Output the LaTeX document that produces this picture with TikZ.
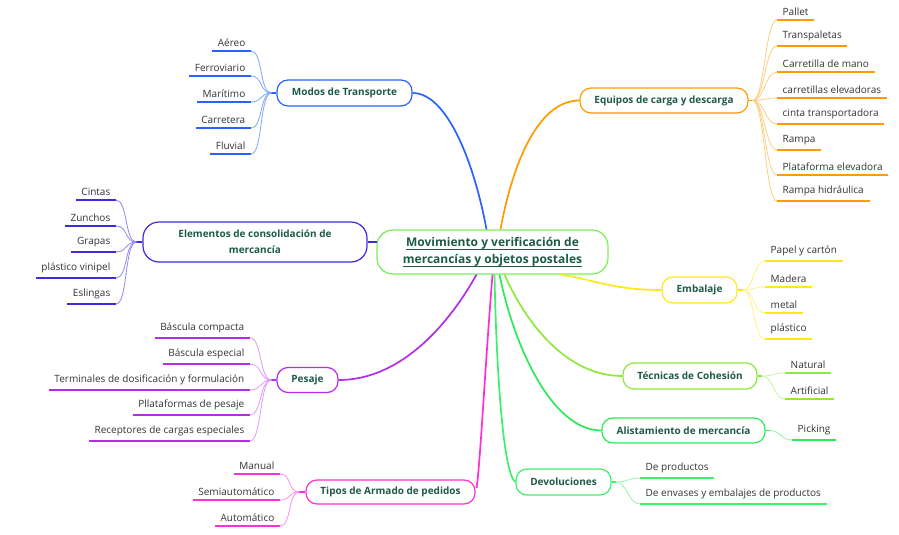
\documentclass[tikz,border=0pt]{standalone}
\usepackage{fontspec}
\setmainfont{Open Sans}
\newcommand{\lowul}[1]{\setbox0\hbox{#1}\rlap{\raisebox{-3.2pt}{\rule{\wd0}{0.9pt}}}\box0}
\begin{document}
\begin{tikzpicture}[x=1pt,y=-1pt,
  hub/.style={draw, line width=1.2pt, rounded corners=11pt, inner sep=0pt, font=\fontsize{10}{12}\selectfont\bfseries, text=txtg, fill=white},
  leaf/.style={inner xsep=5.5pt, inner ysep=4.5pt, font=\fontsize{10}{12}\selectfont, text=leafc},
  ul/.style={line width=1.6pt},
  twig/.style={line width=0.8pt},
  main/.style={line width=1.7pt}]
\definecolor{txtg}{HTML}{1D5B47}
\definecolor{leafc}{HTML}{333333}
\definecolor{cblue}{HTML}{2962FF}\definecolor{lblue}{HTML}{7FA6FF}
\definecolor{cind}{HTML}{3D2BE0}\definecolor{lind}{HTML}{9088F2}
\definecolor{cpur}{HTML}{B52CE8}\definecolor{lpur}{HTML}{DD99F5}
\definecolor{cmag}{HTML}{FF2ED8}\definecolor{lmag}{HTML}{FF8CEE}
\definecolor{corg}{HTML}{FF9A00}\definecolor{lorg}{HTML}{FFCC80}
\definecolor{cyel}{HTML}{FFE81A}\definecolor{lyel}{HTML}{FFF080}
\definecolor{clim}{HTML}{8FE83A}\definecolor{llim}{HTML}{C5F59A}
\definecolor{cgrn}{HTML}{2EE85A}\definecolor{lgrn}{HTML}{90F5A5}
\definecolor{cdev}{HTML}{3DF06A}\definecolor{ldev}{HTML}{96F5AE}
\definecolor{ccen}{HTML}{7AEE5A}
\useasboundingbox (0,0) rectangle (899,535);

% hubs
\node[hub, draw=ccen, rounded corners=16pt, minimum width=231pt, minimum height=44pt, align=center, font=\fontsize{12}{17}\selectfont\bfseries] (central) at (492.5,252)
  {\lowul{Movimiento y verificación de}\\\lowul{mercancías y objetos postales}};
\node[hub, draw=cblue, minimum width=135pt, minimum height=26pt] (modos) at (344.5,93) {Modos de Transporte};
\node[hub, draw=cind, rounded corners=16pt, minimum width=224pt, minimum height=40pt, align=center, font=\fontsize{10}{16}\selectfont\bfseries] (elem) at (255,242) {Elementos de consolidación de\\mercancía};
\node[hub, draw=cpur, minimum width=61pt, minimum height=25pt] (pesaje) at (307.5,380) {Pesaje};
\node[hub, draw=cmag, minimum width=169pt, minimum height=24pt] (tipos) at (390.5,492) {Tipos de Armado de pedidos};
\node[hub, draw=corg, minimum width=168pt, minimum height=25pt] (equipos) at (664,100.5) {Equipos de carga y descarga};
\node[hub, draw=cyel, minimum width=75pt, minimum height=26pt] (emb) at (699.5,290) {Embalaje};
\node[hub, draw=clim, minimum width=134pt, minimum height=26pt] (tec) at (690,376) {Técnicas de Cohesión};
\node[hub, draw=cgrn, minimum width=163pt, minimum height=25pt] (alis) at (683.5,430.5) {Alistamiento de mercancía};
\node[hub, draw=cdev, minimum width=95pt, minimum height=26pt] (dev) at (563.5,482) {Devoluciones};

% main connectors
\draw[main, cblue] (modos.east) .. controls +(35,0) and +(-12,-65) .. ([xshift=-6pt]central.north);
\draw[main, corg] (equipos.west) .. controls +(-45,0) and +(10,-55) .. ([xshift=8pt]central.north);
\draw[main, cind] (elem.east) -- ([yshift=10pt,xshift=1pt]central.west);
\draw[main, cpur] (pesaje.east) .. controls +(65,0) and +(-25,45) .. ([xshift=-16pt]central.south);
\draw[main, cmag] ([yshift=4pt,xshift=1pt]tipos.east) .. controls +(4,-30) and +(-8,100) .. (central.south);
\draw[main, cdev] (dev.west) .. controls +(-12,-8) and +(2,100) .. ([xshift=2pt]central.south);
\draw[main, cgrn] (alis.west) .. controls +(-50,0) and +(14,70) .. ([xshift=7pt]central.south);
\draw[main, clim] (tec.west) .. controls +(-55,0) and +(22,50) .. ([xshift=12pt]central.south);
\draw[main, cyel] (emb.west) .. controls +(-50,0) and +(30,4) .. ([xshift=68pt]central.south);

% junctions
\coordinate (jm) at ([xshift=-5pt]modos.west);
\coordinate (je) at ([xshift=-6pt]elem.west);
\coordinate (jp) at ([xshift=-5pt]pesaje.west);
\coordinate (jt) at ([xshift=-6pt]tipos.west);
\coordinate (jq) at ([xshift=4pt]equipos.east);
\coordinate (jb) at ([xshift=5pt]emb.east);
\coordinate (jc) at ([xshift=4pt]tec.east);
\coordinate (ja) at ([xshift=4pt]alis.east);
\coordinate (jd) at ([xshift=4pt]dev.east);
\draw[main, cblue] (modos.west) -- (jm);
\draw[main, cind] (elem.west) -- (je);
\draw[main, cpur] (pesaje.west) -- (jp);
\draw[main, cmag] (tipos.west) -- (jt);
\draw[main, corg] (equipos.east) -- (jq);
\draw[main, cyel] (emb.east) -- (jb);
\draw[main, clim] (tec.east) -- (jc);
\draw[main, cgrn] (alis.east) -- (ja);
\draw[main, cdev] (dev.east) -- (jd);

% left leaves
\foreach \t/\y [count=\i] in {Aéreo/51, Ferroviario/76, Marítimo/102, Carretera/128, Fluvial/154}{
  \node[leaf, anchor=south east] (m\i) at (251,\y) {\t};
  \draw[twig, lblue] (jm) .. controls +(-12,0) and +(12,0) .. (m\i.south east);
  \draw[ul, cblue] (m\i.south west) -- (m\i.south east);
}
\foreach \t/\y [count=\i] in {Cintas/200, Zunchos/226, Grapas/252, plástico vinipel/278, Eslingas/304}{
  \node[leaf, anchor=south east] (e\i) at (116,\y) {\t};
  \draw[twig, lind] (je) .. controls +(-12,0) and +(12,0) .. (e\i.south east);
  \draw[ul, cind] (e\i.south west) -- (e\i.south east);
}
\foreach \t/\y [count=\i] in {Báscula compacta/338, Báscula especial/364, Terminales de dosificación y formulación/390, Pllataformas de pesaje/415, Receptores de cargas especiales/441}{
  \node[leaf, anchor=south east] (p\i) at (250,\y) {\t};
  \draw[twig, lpur] (jp) .. controls +(-12,0) and +(12,0) .. (p\i.south east);
  \draw[ul, cpur] (p\i.south west) -- (p\i.south east);
}
\foreach \t/\y [count=\i] in {Manual/474, Semiautomático/500, Automático/526}{
  \node[leaf, anchor=south east] (t\i) at (280,\y) {\t};
  \draw[twig, lmag] (jt) .. controls +(-12,0) and +(12,0) .. (t\i.south east);
  \draw[ul, cmag] (t\i.south west) -- (t\i.south east);
}
% right leaves
\foreach \t/\y [count=\i] in {Pallet/20, Transpaletas/46, Carretilla de mano/72, carretillas elevadoras/98, cinta transportadora/124, Rampa/150, Plataforma elevadora/175, Rampa hidráulica/201}{
  \node[leaf, anchor=south west] (q\i) at (777,\y) {\t};
  \draw[twig, lorg] (jq) .. controls +(12,0) and +(-12,0) .. (q\i.south west);
  \draw[ul, corg] (q\i.south west) -- (q\i.south east);
}
\foreach \t/\y [count=\i] in {Papel y cartón/261, Madera/287, metal/313, plástico/339}{
  \node[leaf, anchor=south west] (b\i) at (765,\y) {\t};
  \draw[twig, lyel] (jb) .. controls +(12,0) and +(-12,0) .. (b\i.south west);
  \draw[ul, cyel] (b\i.south west) -- (b\i.south east);
}
\foreach \t/\y [count=\i] in {Natural/373, Artificial/399}{
  \node[leaf, anchor=south west] (c\i) at (785,\y) {\t};
  \draw[twig, llim] (jc) .. controls +(12,0) and +(-12,0) .. (c\i.south west);
  \draw[ul, clim] (c\i.south west) -- (c\i.south east);
}
\foreach \t/\y [count=\i] in {Picking/440}{
  \node[leaf, anchor=south west] (a\i) at (792,\y) {\t};
  \draw[twig, lgrn] (ja) .. controls +(12,0) and +(-12,0) .. (a\i.south west);
  \draw[ul, cgrn] (a\i.south west) -- (a\i.south east);
}
\foreach \t/\y [count=\i] in {De productos/478, De envases y embalajes de productos/504}{
  \node[leaf, anchor=south west] (d\i) at (640,\y) {\t};
  \draw[twig, ldev] (jd) .. controls +(12,0) and +(-12,0) .. (d\i.south west);
  \draw[ul, cdev] (d\i.south west) -- (d\i.south east);
}
\end{tikzpicture}
\end{document}
